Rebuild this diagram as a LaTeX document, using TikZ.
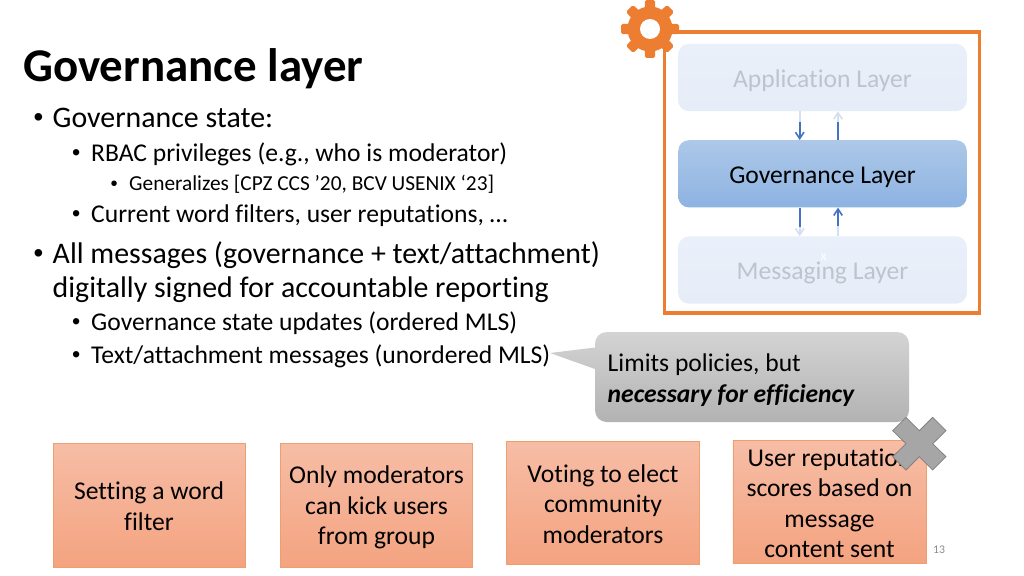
\documentclass[tikz,border=0pt]{standalone}
\usepackage{fontspec}
\setmainfont{Carlito}[Ligatures=NoCommon]
\newfontfamily\bulletfont{Liberation Sans}
\usetikzlibrary{arrows.meta,calc}
\newcommand\lowerA{\rule{0pt}{18.8pt}}
\newcommand\lowerB{\rule{0pt}{21pt}}
\definecolor{orangeline}{HTML}{ED7D31}
\definecolor{bluearrow}{HTML}{4472C4}
\definecolor{palearrow}{HTML}{D5DFF2}
\definecolor{E8EFF9top}{HTML}{E9F0FA}
\definecolor{E8EFF9bot}{HTML}{E6EDF8}
\definecolor{fadetext}{HTML}{BFC4CC}
\definecolor{govtop}{HTML}{ADC8E8}
\definecolor{govbot}{HTML}{8DB3E2}
\definecolor{policyline}{HTML}{EE9F70}
\definecolor{policytop}{HTML}{F6BDA6}
\definecolor{policybot}{HTML}{F4A380}
\tikzset{
  x=0.9375pt,y=-0.9375pt,
  txt/.style={anchor=base west,inner sep=0pt,text=black},
  lvl1/.style={txt,font=\fontsize{28}{32}\selectfont},
  lvl2/.style={txt,font=\fontsize{24}{28}\selectfont},
  lvl3/.style={txt,font=\fontsize{20}{24}\selectfont},
  bltA/.style={txt,font=\bulletfont\fontsize{26}{30}\selectfont},
  bltB/.style={txt,font=\bulletfont\fontsize{22}{26}\selectfont},
  bltC/.style={txt,font=\bulletfont\fontsize{19}{22}\selectfont},
  layerbox/.style={rounded corners=10pt,minimum width=270.5pt,minimum height=63pt,inner sep=0pt,font=\fontsize{24}{28}\selectfont,anchor=center,text depth=5pt,text height=23.6pt},
  faded/.style={layerbox,top color=E8EFF9top,bottom color=E8EFF9bot,text=fadetext},
  policy/.style={draw=policyline,line width=0.6pt,top color=policytop,bottom color=policybot,inner sep=0pt,align=center,font=\fontsize{24}{28.6}\selectfont,text=black},
  fadedarrow/.style={palearrow,line width=1.5pt,-{Straight Barb[length=6pt,width=8pt]}},
  darkarrow/.style={bluearrow,line width=1.5pt},
  darkarrowtip/.style={bluearrow,line width=1.5pt,-{Straight Barb[length=6pt,width=8pt]}},
}
\begin{document}
\begin{tikzpicture}
\useasboundingbox (0,0) rectangle (1024,576);
\fill[white] (0,0) rectangle (1024,576);

% left text
\node[txt,font=\fontsize{44}{50}\selectfont\bfseries] (title) at (23,81.5) {Governance layer};
\node[bltA] (b1) at (33.5,126.5) {•};
\node[lvl1] (t1) at (52.5,127.5) {Governance state:};
\node[bltB] (b2) at (72,160.5) {•};
\node[lvl2] (t2) at (91,161.5) {RBAC privileges (e.g., who is moderator)};
\node[bltC] (b3) at (110.5,190) {•};
\node[lvl3] (t3) at (129,190) {Generalizes [CPZ CCS ’20, BCV USENIX ‘23]};
\node[bltB] (b4) at (72,221.5) {•};
\node[lvl2] (t4) at (91,222) {Current word filters, user reputations, …};
\node[bltA] (b5) at (33.5,262.5) {•};
\node[lvl1] (t5) at (52.5,263.5) {All messages (governance + text/attachment)};
\node[lvl1] (t6) at (52.5,297) {digitally signed for accountable reporting};
\node[bltB] (b7) at (72,329.5) {•};
\node[lvl2] (t7) at (91,330) {Governance state updates (ordered MLS)};
\node[bltB] (b8) at (72,362.5) {•};
\node[lvl2] (t8) at (91,363) {Text/attachment messages (unordered MLS)};

% stack frame
\node[draw=orangeline,line width=2.9pt,minimum width=294.5pt,minimum height=263.5pt,inner sep=0pt] (frame) at (822,172.5) {};
% gear
\begin{scope}[shift={(650,29)}]
  \foreach \a in {0,45,...,315}
    \fill[orangeline,rotate=\a,rounded corners=1.5pt] (-6,0) -- (-5,-29) -- (5,-29) -- (6,0) -- cycle;
  \fill[orangeline] (0,0) circle[radius=22.5];
  \fill[white] (0,0) circle[radius=10];
\end{scope}

% layers
\node[faded] (app) at (822.5,77.5) {Application Layer};
\node[layerbox,top color=govtop,bottom color=govbot,text=black] (gov) at (822.5,173.8) {Governance Layer};
\node[faded] (msg) at (822.5,270) {Messaging Layer};
\node[text=white,font=\fontsize{13}{15}\selectfont,inner sep=0pt] (xmark) at (823.5,257) {x};

% arrows
\coordinate (a1) at ($(app.south)+(-22.8,0)$);
\coordinate (a1m) at ($(app.south)+(-22.8,11)$);
\coordinate (g1) at ($(gov.north)+(-22.8,0)$);
\draw[palearrow,line width=1.5pt] (a1) -- (a1m);
\draw[darkarrowtip] (a1m) -- (g1);
\coordinate (g2) at ($(gov.north)+(15.5,0)$);
\coordinate (g2m) at ($(gov.north)+(15.5,-18)$);
\coordinate (a2) at ($(app.south)+(15.5,0)$);
\draw[darkarrow] (g2) -- (g2m);
\draw[fadedarrow] (g2m) -- (a2);
\coordinate (g3) at ($(gov.south)+(-22.8,0)$);
\coordinate (g3m) at ($(gov.south)+(-22.8,19)$);
\coordinate (m3) at ($(msg.north)+(-22.8,0)$);
\draw[darkarrow] (g3) -- (g3m);
\draw[fadedarrow] (g3m) -- (m3);
\coordinate (m4) at ($(msg.north)+(15.5,0)$);
\coordinate (m4m) at ($(msg.north)+(15.5,-10)$);
\coordinate (g4) at ($(gov.south)+(15.5,0)$);
\draw[palearrow,line width=1.5pt] (m4) -- (m4m);
\draw[darkarrowtip] (m4m) -- (g4);

% callout
\shade[top color=black!17,bottom color=black!30]
  (550,353) -- (595,347.5) [rounded corners=11pt] -- (595,332) -- (909,332) -- (909,422) -- (595,422) [sharp corners] -- (595,369) -- cycle;
\node[lvl2] (c1) at (607.5,371) {Limits policies, but};
\node[lvl2,font=\fontsize{24}{28}\selectfont\bfseries\itshape] (c2) at (607.5,402) {necessary for efficiency};

% policy boxes
\node[policy,minimum width=180pt,minimum height=116pt] (p1) at (149,505) {\lowerA Setting a word\\filter};
\node[policy,minimum width=180pt,minimum height=116pt] (p2) at (376.5,505) {\lowerB Only moderators\\can kick users\\from group};
\node[policy,minimum width=181pt,minimum height=115.5pt] (p3) at (603,503) {\lowerA Voting to elect\\community\\moderators};
\node[policy,minimum width=181pt,minimum height=115.5pt] (p4) at (829.5,502) {\lowerA User reputation\\scores based on\\message\\content sent};

% cross
\draw[draw=black!50,fill=black!35,line width=0.7pt] (892.7,430.7) -- (906,417.3) -- (919.3,430.7) -- (932.7,417.3) -- (946,430.7) -- (932.7,443.7) -- (946,456.7) -- (932.7,470) -- (919.3,456.7) -- (906,470) -- (892.7,456.7) -- (906,443.7) -- cycle;

\node[font=\fontsize{11}{13}\selectfont,text=black!45,inner sep=0pt] (pg) at (939,549.5) {13};
\end{tikzpicture}
\end{document}
